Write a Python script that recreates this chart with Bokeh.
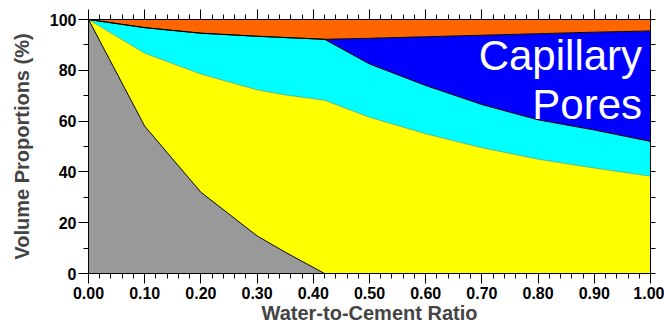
from bokeh.plotting import figure
from bokeh.models import (Range1d, LinearAxis, FixedTicker, NumeralTickFormatter, Label,
                          CustomJSTickFormatter)
from bokeh.embed import file_html
from bokeh.resources import INLINE

# Water-to-cement ratio
wc = [0.00, 0.10, 0.20, 0.30, 0.35, 0.42, 0.50, 0.60, 0.70, 0.80, 0.90, 1.00]
# Cumulative boundaries (volume %)
unhydrated_top = [100, 58.0, 32.0, 14.8, 8.4, 0, 0, 0, 0, 0, 0, 0]
gel_solids_top = [100, 86.7, 78.5, 72.3, 70.3, 68.2, 61.5, 55.0, 49.5, 45.0, 41.5, 38.3]
gel_water_top = [100, 96.8, 94.6, 93.4, 92.9, 92.2, 82.5, 74.0, 66.5, 60.5, 56.5, 52.0]
shrinkage_bottom = [100, 96.8, 94.6, 93.4, 92.9, 92.2, 92.6, 93.2, 93.8, 94.4, 95.0, 95.5]
total = [100] * len(wc)
zero = [0] * len(wc)

x_major = [0.0, 0.1, 0.2, 0.3, 0.4, 0.5, 0.6, 0.7, 0.8, 0.9, 1.0]
x_minor = [i / 50 for i in range(51)]
y_major = [0, 20, 40, 60, 80, 100]
y_minor = [0, 10, 20, 30, 40, 50, 60, 70, 80, 90, 100]

FONT = "Liberation Sans"

p = figure(width=664, height=328, output_backend="svg", toolbar_location=None,
           x_range=Range1d(0, 1), y_range=Range1d(0, 100),
           min_border_left=88, min_border_right=14, min_border_top=17, min_border_bottom=55)
p.outline_line_color = "black"
p.xgrid.visible = False
p.ygrid.visible = False

p.varea(x=wc, y1=zero, y2=unhydrated_top, fill_color="#999999")
p.varea(x=wc, y1=unhydrated_top, y2=gel_solids_top, fill_color="#FFFF00")
p.varea(x=wc, y1=gel_solids_top, y2=gel_water_top, fill_color="#00FFFF")
p.varea(x=wc, y1=gel_water_top, y2=shrinkage_bottom, fill_color="#0000FF")
p.varea(x=wc, y1=shrinkage_bottom, y2=total, fill_color="#FF6600")

p.line(wc, gel_solids_top, line_color="#555555", line_width=0.6, line_alpha=0.7)
p.line(wc, unhydrated_top, line_color="black", line_width=1)
p.line(wc, gel_water_top, line_color="black", line_width=1)
p.line(wc, shrinkage_bottom, line_color="black", line_width=1)

def style(ax, major_out=10, minor_out=5):
    ax.axis_line_color = "black"
    ax.major_tick_line_color = "black"
    ax.minor_tick_line_color = "black"
    ax.major_tick_in = 0
    ax.minor_tick_in = 0
    ax.major_tick_out = major_out
    ax.minor_tick_out = minor_out
    ax.major_label_text_font = FONT
    ax.major_label_text_font_style = "bold"
    ax.major_label_text_font_size = "16px"
    ax.major_label_text_color = "black"

xa = p.xaxis[0]
xa.ticker = FixedTicker(ticks=x_major, minor_ticks=x_minor)
xa.formatter = NumeralTickFormatter(format="0.00")
style(xa)
xa.major_label_standoff = 3
xa.axis_label = "Water-to-Cement Ratio"
xa.axis_label_text_font = FONT
xa.axis_label_text_font_style = "bold"
xa.axis_label_text_font_size = "20px"
xa.axis_label_standoff = 0

ya = p.yaxis[0]
ya.ticker = FixedTicker(ticks=y_major, minor_ticks=y_minor)
style(ya)
ya.major_label_standoff = 2
ya.axis_label = "Volume Proportions (%)"
ya.axis_label_text_font = FONT
ya.axis_label_text_font_style = "bold"
ya.axis_label_text_font_size = "20px"
ya.axis_label_standoff = 14

blank = CustomJSTickFormatter(code="return ' '")

top = LinearAxis(ticker=FixedTicker(ticks=x_major, minor_ticks=x_minor), formatter=blank,
                 axis_line_color="black", major_tick_line_color="black", minor_tick_line_color="black",
                 major_tick_in=0, minor_tick_in=0, major_tick_out=10, minor_tick_out=5,
                 major_label_text_font_size="5px", major_label_standoff=0)
p.add_layout(top, "above")

right = LinearAxis(ticker=FixedTicker(ticks=y_minor, minor_ticks=[]), formatter=blank,
                   axis_line_color="black", major_tick_line_color="black",
                   major_tick_in=0, major_tick_out=5, major_label_text_font_size="5px",
                   major_label_standoff=0)
p.add_layout(right, "right")

for txt, yv in [("Capillary", 86.0), ("Pores", 66.5)]:
    p.add_layout(Label(x=0.985, y=yv, text=txt, text_align="right", text_baseline="alphabetic",
                       text_color="white", text_font=FONT, text_font_size="42px"))

open("out.html", "w").write(file_html(p, INLINE))
